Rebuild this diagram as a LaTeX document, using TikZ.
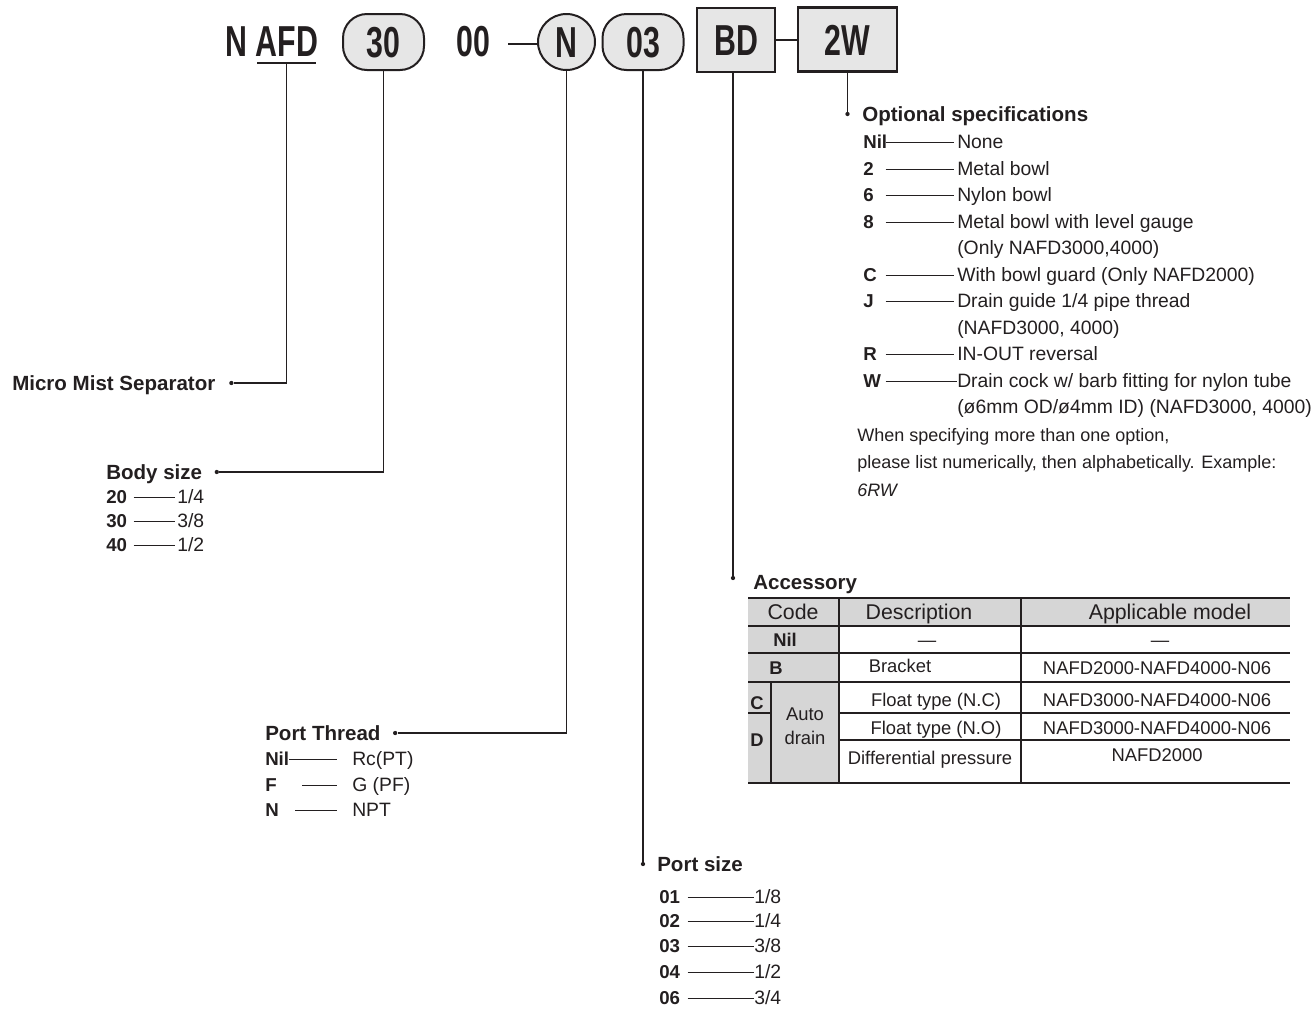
\documentclass[tikz,border=0pt]{standalone}
\usepackage{fontspec}
\setmainfont{Liberation Sans}
\newfontfamily\hdfont[FakeStretch=0.7]{Liberation Sans}
\usetikzlibrary{shapes.geometric,positioning}
\definecolor{ink}{HTML}{231F20}
\definecolor{boxgray}{HTML}{E6E6E6}
\definecolor{cellgray}{HTML}{D6D6D6}
\newcommand\fsz[1]{\fontsize{#1}{#1}\selectfont}
\tikzset{
  hd/.style={font={\hdfont\bfseries\fsz{32.5pt}},inner sep=0pt,text height=23.3pt,text depth=0pt},
  oval/.style={hd,draw=ink,fill=boxgray,line width=1.5pt,rounded corners=18pt,minimum width=60.75pt,minimum height=42pt},
  codebox/.style={hd,draw=ink,fill=boxgray,line width=2.2pt,minimum height=48pt},
  lab/.style={font={\bfseries\fsz{15.4pt}},inner sep=0pt,anchor=west,text height=11pt,text depth=0pt},
  cd/.style={font={\bfseries\fsz{14pt}},inner sep=0pt,anchor=west,text height=10pt,text depth=0pt,align=left},
  ds/.style={font={\fsz{14.5pt}},inner sep=0pt,anchor=west,text height=10.4pt,text depth=0pt},
  nt/.style={font={\fsz{13.5pt}},inner sep=0pt,anchor=west,text height=9.7pt,text depth=0pt},
  th/.style={font={\fsz{16pt}},inner sep=0pt,text height=11.5pt,text depth=0pt},
  tb/.style={font={\fsz{13.8pt}},inner sep=0pt,text height=9.9pt,text depth=0pt},
  tc/.style={tb,font={\bfseries\fsz{13.8pt}}},
  dot/.style={circle,fill=ink,inner sep=0pt,minimum size=3.2pt},
  cn/.style={draw=ink,line width=1.1pt},
  ln/.style={draw=ink,line width=0.6pt},
  tk/.style={draw=ink,line width=1.6pt},
  tn/.style={draw=ink,line width=0.8pt}
}
\begin{document}
\begin{tikzpicture}[x=0.75pt,y=-0.75pt,every node/.append style={text=ink}]
\useasboundingbox (0,0) rectangle (1316,1011);
% model code
\node[hd] (n) at (236,40.5) {N};
\node[hd] (afd) at (287,40.5) {AFD};
\draw[ln,line width=1pt] (257,63) -- coordinate (ul) (316,63);
\node[oval] (size) at (383.5,42) {30};
\node[hd] (zero) at (473.5,40.5) {00};
\draw[cn,line width=1.6pt] (508,44) -- (538,44);
\node[hd,ellipse,draw=ink,fill=boxgray,line width=1.5pt,minimum width=42.75pt,minimum height=42pt] (port) at (566.5,42) {N};
\node[oval] (psize) at (643,42) {03};
\node[codebox,minimum width=58.5pt] (bd) at (736,40) {BD};
\node[codebox,minimum width=74.25pt] (opt) at (847.5,39.5) {2W};
\draw[cn,line width=1.6pt] (bd.east) -- (bd.east -| opt.west);

% labels and leaders
\node[lab] (mms) at (12,383) {Micro Mist Separator};
\node[dot,right=10pt of mms] (dmm) {};
\node[lab] (bs) at (106,472) {Body size};
\node[dot,right=9pt of bs] (dbs) {};
\node[lab] (pt) at (265,733) {Port Thread};
\node[dot,right=9pt of pt] (dpt) {};
\node[lab] (ps) at (657,864) {Port size};
\node[dot] (dps) at (psize.south |- ps.west) {};
\node[lab] (acc) at (753,582) {Accessory};
\node[dot] (dac) at (733,578) {};
\node[lab] (os) at (862,114) {Optional specifications};
\node[dot] (dop) at (opt.south |- os.west) {};
\draw[cn] (ul) |- (dmm);
\draw[cn] (size.south) |- (dbs);
\draw[cn] (port.south) |- (dpt);
\draw[cn] (psize.south) -- (dps);
\draw[cn] (bd.south -| dac) -- (dac);
\draw[cn] (opt.south) -- (dop);

% optional specifications
\node[cd,text width=16.5pt] (o0) at (863,142) {Nil};
\node[ds] (t0) at (957,142) {None};
\node[cd,text width=16.5pt] (o2) at (863,169) {2};
\node[ds] (t2) at (957,169) {Metal bowl};
\node[cd,text width=16.5pt] (o6) at (863,195) {6};
\node[ds] (t6) at (957,195) {Nylon bowl};
\node[cd,text width=16.5pt] (o8) at (863,222) {8};
\node[ds] (t8) at (957,222) {Metal bowl with level gauge};
\node[ds] (t8b) at (957,248) {(Only NAFD3000,4000)};
\node[cd,text width=16.5pt] (oc) at (863,275) {C};
\node[ds] (tc) at (957,275) {With bowl guard (Only NAFD2000)};
\node[cd,text width=16.5pt] (oj) at (863,301) {J};
\node[ds] (tj) at (957,301) {Drain guide 1/4 pipe thread};
\node[ds] (tjb) at (957,328) {(NAFD3000, 4000)};
\node[cd,text width=16.5pt] (or) at (863,354) {R};
\node[ds] (tr) at (957,354) {IN-OUT reversal};
\node[cd,text width=16.5pt] (ow) at (863,381) {W};
\node[ds] (tw) at (957,381) {Drain cock w/ barb fitting for nylon tube};
\node[ds] (twb) at (957,407) {(ø6mm OD/ø4mm ID) (NAFD3000, 4000)};
\path[ln]
(o0.east) edge ([xshift=-2pt]t0.west)
(o2.east) edge ([xshift=-2pt]t2.west)
(o6.east) edge ([xshift=-2pt]t6.west)
(o8.east) edge ([xshift=-2pt]t8.west)
(oc.east) edge ([xshift=-2pt]tc.west)
(oj.east) edge ([xshift=-2pt]tj.west)
(or.east) edge ([xshift=-2pt]tr.west)
(ow.east) edge (tw.west)
;
\node[nt] (n1) at (857,435) {When specifying more than one option,};
\node[nt] (n2) at (857,462) {please list numerically, then alphabetically. Example:};
\node[nt,font={\itshape\fsz{13.5pt}}] (n3) at (857,490) {6RW};

% body size
\node[cd,text width=20.25pt] (b20) at (106,497) {20};
\node[ds] (s20) at (177,497) {1/4};
\node[cd,text width=20.25pt] (b30) at (106,521) {30};
\node[ds] (s30) at (177,521) {3/8};
\node[cd,text width=20.25pt] (b40) at (106,545) {40};
\node[ds] (s40) at (177,545) {1/2};
\path[ln]
(b20.east) edge ([xshift=-1.5pt]s20.west)
(b30.east) edge ([xshift=-1.5pt]s30.west)
(b40.east) edge ([xshift=-1.5pt]s40.west)
;

% port thread
\node[cd] (p0) at (265,759) {Nil};
\node[ds] (q0) at (352,759) {Rc(PT)};
\node[cd] (pf) at (265,785) {F};
\node[ds] (qf) at (352,785) {G (PF)};
\node[cd] (pn) at (265,810) {N};
\node[ds] (qn) at (352,810) {NPT};
\path[ln]
(p0.east) edge ([xshift=-11pt]q0.west)
([xshift=19pt]pf.east) edge ([xshift=-11pt]qf.west)
([xshift=12pt]pn.east) edge ([xshift=-11pt]qn.west)
;

% port size
\node[cd,text width=21pt] (z1) at (659,897) {01};
\node[ds] (r1) at (754,897) {1/8};
\node[cd,text width=21pt] (z2) at (659,921) {02};
\node[ds] (r2) at (754,921) {1/4};
\node[cd,text width=21pt] (z3) at (659,946) {03};
\node[ds] (r3) at (754,946) {3/8};
\node[cd,text width=21pt] (z4) at (659,972) {04};
\node[ds] (r4) at (754,972) {1/2};
\node[cd,text width=21pt] (z6) at (659,998) {06};
\node[ds] (r6) at (754,998) {3/4};
\path[ln]
(z1.east) edge (r1.west)
(z2.east) edge (r2.west)
(z3.east) edge (r3.west)
(z4.east) edge (r4.west)
(z6.east) edge (r6.west)
;

% accessory table
\fill[cellgray] (748,598) rectangle (1290,626);
\fill[cellgray] (748,626) rectangle (839,783);
\draw[tn] (839,598) -- (839,783);
\draw[tn] (1021,598) -- (1021,783);
\draw[tn] (771,682) -- (771,783);
\draw[tn] (748,653) -- (1290,653);
\draw[tn] (748,682) -- (1290,682);
\draw[tn] (748,713) -- (771,713);
\draw[tn] (839,713) -- (1290,713);
\draw[tn] (839,740) -- (1290,740);
\draw[tk] (748,598) -- (1290,598);
\draw[tk] (748,626) -- (1290,626);
\draw[tk] (748,783) -- (1290,783);
\node[th] (hcode) at (793,612) {Code};
\node[th] (hdesc) at (919,612) {Description};
\node[th] (hmod) at (1170,612) {Applicable model};
\node[tc] (knil) at (785,640) {Nil};
\node[tb] (dnil) at (927,640) {—};
\node[tb] (mnil) at (1160,640) {—};
\node[tc] (kb) at (776,668) {B};
\node[tb] (db) at (900,666) {Bracket};
\node[tb] (mb) at (1157,668) {NAFD2000-NAFD4000-N06};
\node[tc] (kc) at (757,703) {C};
\node[tc] (kd) at (757,740) {D};
\node[tb] (kauto) at (805,714) {Auto};
\node[tb] (kdrain) at (805,738) {drain};
\node[tb] (dc) at (936,700) {Float type (N.C)};
\node[tb] (mc) at (1157,700) {NAFD3000-NAFD4000-N06};
\node[tb] (dd) at (936,728) {Float type (N.O)};
\node[tb] (md) at (1157,728) {NAFD3000-NAFD4000-N06};
\node[tb] (ddp) at (930,758) {Differential pressure};
\node[tb] (mdp) at (1157,755) {NAFD2000};
\end{tikzpicture}
\end{document}
